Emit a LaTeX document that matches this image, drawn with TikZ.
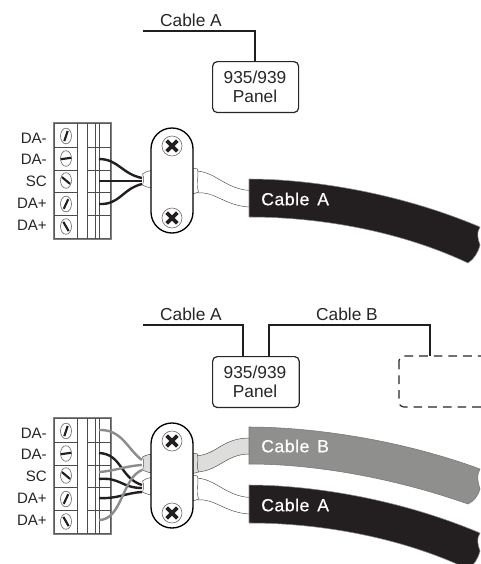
\documentclass[tikz,border=0pt]{standalone}
\usepackage{fontspec}
\setmainfont{Liberation Sans}
\definecolor{cblack}{HTML}{231F20}
\definecolor{cgray}{HTML}{8F8F8D}
\definecolor{jlight}{HTML}{DDDDDB}
\definecolor{wgray}{HTML}{8C8C8C}
\tikzset{
  lab/.style={font=\fontsize{13}{15}\selectfont,inner sep=0pt,text=black!85},
  tlab/.style={font=\fontsize{11.3}{13}\selectfont,inner sep=0pt,anchor=east,text=black!85},
  clab/.style={font=\fontsize{13.2}{15}\selectfont\addfontfeatures{FakeBold=0.35,LetterSpace=3},inner sep=0pt,anchor=west,text=white},
  panel/.style={draw=black!85,line width=0.9pt,rounded corners=3.5pt,fill=white},
  bus/.style={draw=black!88,line width=2.2pt},
  wire/.style={draw=cblack,line width=1.8pt},
  gwire/.style={draw=wgray,line width=1.8pt},
  jack/.style={draw=black!70,line width=0.35pt,fill=white},
  pics/terminal/.style={code={
    \draw[black!50,line width=1.2pt,fill=white] (54,0) rectangle (111,116);
    \draw[black!65,line width=0.5pt] (54.8,0.8) rectangle (110.2,115.2);
    \foreach \x in {77,87,95,99} \draw[black!70,line width=0.5pt] (\x,0) -- (\x,116);
    \foreach \y in {24,47,69.5,92} {
      \draw[black!70,line width=0.5pt] (54,\y) -- (77,\y);
      \draw[black!70,line width=0.5pt] (87,\y) -- (111,\y);
    }
    \foreach \y/\a in {13/-72,35.5/-8,57.5/40,81/-65,103.5/60} {
      \draw[black!55,line width=0.5pt,fill=white] (66,\y) ellipse [x radius=5.5,y radius=7.8];
      \draw[cblack,line width=1.6pt] (66,\y) ++(\a:5.3) -- ++(\a+180:10.6);
    }
  }},
  pics/clamp/.style={code={
    \draw[black,line width=1pt,fill=white,rounded corners=15.7pt] (151,0) rectangle (193,105);
    \foreach \y in {18,90} {
      \draw[black!55,line width=0.5pt,fill=white] (172,\y) circle [radius=10];
      \draw[cblack,line width=2.8pt] (172,\y) ++(45:7.5) -- ++(225:15);
      \draw[cblack,line width=2.8pt] (172,\y) ++(135:7.5) -- ++(315:15);
    }
  }},
  pics/whitejacket/.style={code={
    \draw[jack] (142.5,-6) .. controls (145,-8) and (148,-9) .. (151,-9.5) -- (151,8) .. controls (148,7.5) and (145,6.5) .. (142.5,5) .. controls (144,1) and (144,-3) .. (142.5,-6) -- cycle;
    \fill[white] (195,-9) .. controls (215,-9) and (225,9) .. (250,10.5) -- (250,27) .. controls (225,26) and (215,11) .. (197,13) -- cycle;
    \draw[black!70,line width=0.35pt] (195,-9) .. controls (215,-9) and (225,9) .. (250,10.5);
    \draw[black!70,line width=0.35pt] (197,13) .. controls (215,11) and (225,26) .. (250,27);
    \draw[jack] (193,-12) -- (197.5,-11) .. controls (199,-5) and (196,4) .. (198.5,12) -- (193,14) -- cycle;
  }},
  pics/blackcable/.style={code={
    \draw[black!45,line width=0.4pt,fill=cblack] (249,0) .. controls (300,0) and (390,10) .. (480,48)
      .. controls (476,54) and (478,60) .. (480,66) .. controls (478,74) and (474,80) .. (468,84)
      .. controls (400,52) and (320,38) .. (249,38) -- cycle;
  }},
}
\begin{document}
\begin{tikzpicture}[x=0.75pt,y=-0.75pt]
\useasboundingbox (0,0) rectangle (480,564);

% ---------- upper diagram
\node[panel,minimum width=64.5pt,minimum height=38.2pt,anchor=north west] (P1) at (212,61) {};
\node[lab] (P1a) at (255,77) {935/939};
\node[lab] (P1b) at (255,96) {Panel};
\coordinate (A1) at (143,31);
\coordinate (P1top) at (255,61);
\draw[bus] (A1) -| (P1top);
\node[lab] (LA1) at (191,20) {Cable A};

\pic at (0,123) {terminal};
\node[tlab] (t1) at (47,138) {DA-};
\node[tlab] (t2) at (47,159) {DA-};
\node[tlab] (t3) at (47,181) {SC};
\node[tlab] (t4) at (47,203) {DA+};
\node[tlab] (t5) at (47,225) {DA+};

\pic at (0,180) {whitejacket};
\coordinate (w1a) at (99,159);
\coordinate (w1b) at (99,181);
\coordinate (w1c) at (99,204);
\coordinate (j1a) at (142,178);
\coordinate (j1b) at (142,181);
\coordinate (j1c) at (142,184);
\draw[wire] (w1a) .. controls (118,159) and (122,174) .. (j1a);
\draw[wire] (w1b) -- (j1b);
\draw[wire] (w1c) .. controls (120,205) and (122,189) .. (j1c);
\pic at (0,128) {clamp};
\pic at (0,179) {blackcable};
\node[clab] (CA1) at (261,199) {Cable\hspace{0.45em}A};

% ---------- lower diagram
\node[panel,minimum width=65pt,minimum height=38.2pt,anchor=north west] (P2) at (212,356) {};
\node[lab] (P2a) at (255,372) {935/939};
\node[lab] (P2b) at (255,391) {Panel};
\coordinate (A2) at (143,325);
\coordinate (P2l) at (243,356);
\coordinate (P2r) at (269,356);
\draw[bus] (A2) -| (P2l);
\draw[panel,dashed,dash pattern=on 6.5pt off 4.5pt] (399,356) rectangle (500,407);
\coordinate (D) at (430,356);
\coordinate (Bmid) at (430,325);
\draw[bus] (P2r) |- (Bmid) -- (D);
\node[lab] (LA2) at (191,314) {Cable A};
\node[lab] (LB2) at (347,314) {Cable B};

\pic at (0,418) {terminal};
\node[tlab] (u1) at (47,433) {DA-};
\node[tlab] (u2) at (47,454) {DA-};
\node[tlab] (u3) at (47,476) {SC};
\node[tlab] (u4) at (47,498) {DA+};
\node[tlab] (u5) at (47,520) {DA+};

% lower white jacket
\pic at (0,487) {whitejacket};
% gray jacket
\draw[jack,fill=jlight] (142.5,457) .. controls (145,455.5) and (148,454.5) .. (151,454) -- (151,473) .. controls (148,472.5) and (145,471) .. (142.5,470) .. controls (144,466) and (144,461) .. (142.5,457) -- cycle;
\draw[jack,fill=jlight] (196,456) .. controls (218,454) and (222,438) .. (250,438) -- (250,454) .. controls (226,454) and (220,470) .. (198,472) -- cycle;
\draw[jack,fill=jlight] (193,453) -- (197.5,454) .. controls (199,460) and (196,467) .. (198.5,472) -- (193,473.5) -- cycle;

\coordinate (a1) at (99,430);
\coordinate (a2) at (99,453);
\coordinate (a3) at (99,472);
\coordinate (a4) at (99,479);
\coordinate (a5) at (99,498);
\coordinate (a6) at (99,520);
\coordinate (b1) at (142,460);
\coordinate (b2) at (142,485);
\coordinate (b3) at (142,465);
\coordinate (b4) at (142,488);
\coordinate (b5) at (142,492);
\coordinate (b6) at (142,470);
\draw[wire] (a2) .. controls (122,454) and (120,478) .. (b2);
\draw[wire] (a4) .. controls (120,477) and (122,488) .. (b4);
\draw[wire] (a5) .. controls (118,499) and (125,493) .. (b5);
\draw[gwire] (a1) .. controls (122,429) and (128,450) .. (b1);
\draw[gwire] (a3) .. controls (115,471) and (125,466) .. (b3);
\draw[gwire] (a6) .. controls (122,520) and (122,478) .. (b6);
\pic at (0,423) {clamp};

\draw[black!55,line width=0.4pt,fill=cgray] (249,427) .. controls (300,427) and (390,436) .. (480,469)
  .. controls (476,475) and (478,483) .. (480,489) .. controls (478,496) and (474,501) .. (468,504)
  .. controls (400,480) and (320,464) .. (249,464) -- cycle;
\node[clab] (CB2) at (261,446) {Cable\hspace{0.45em}B};
\pic at (0,485) {blackcable};
\node[clab] (CA2) at (261,505) {Cable\hspace{0.45em}A};
\end{tikzpicture}
\end{document}
